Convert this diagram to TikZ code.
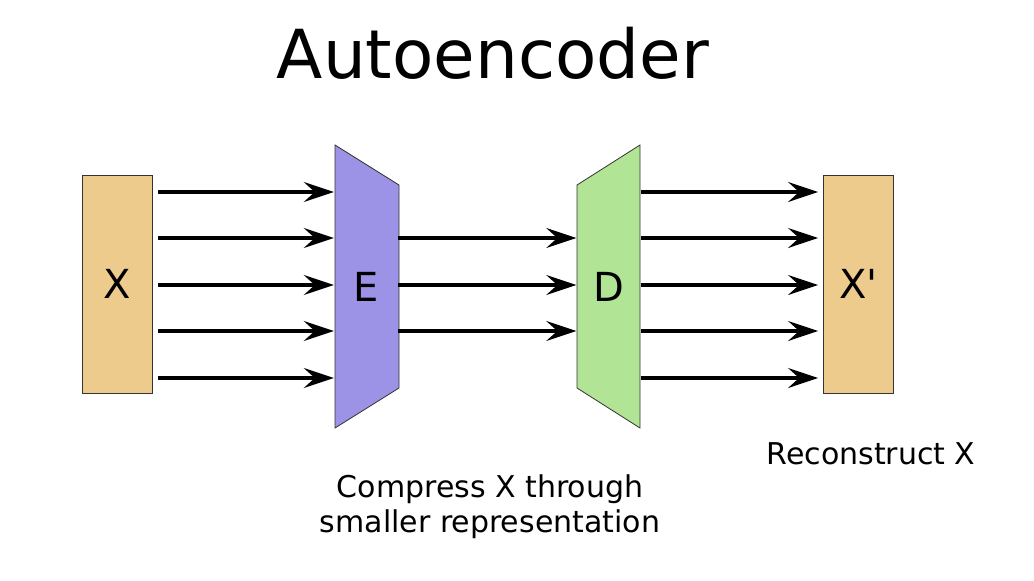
\documentclass[tikz,border=0pt]{standalone}
\usepackage{fontspec}
\setmainfont{DejaVu Sans}
\usetikzlibrary{arrows.meta}
\definecolor{boxc}{HTML}{EDCB8D}
\definecolor{encc}{HTML}{9D93E6}
\definecolor{decc}{HTML}{B1E495}
\definecolor{edgec}{HTML}{333333}
\tikzset{
  databox/.style={draw=edgec, line width=0.8pt, fill=boxc, minimum width=70pt, minimum height=218pt, inner sep=0pt, font=\fontsize{40}{46}\selectfont},
  blk/.style={draw=edgec, line width=0.8pt},
  hid/.style={minimum width=64pt, minimum height=283pt, inner sep=0pt, font=\fontsize{40}{46}\selectfont},
  arr/.style={line width=3.3pt, -{Stealth[length=30pt, width=20pt, inset=11pt]}},
  captext/.style={font=\fontsize{30}{35}\selectfont, align=center}
}
\begin{document}
\begin{tikzpicture}[x=1pt, y=-1pt]
\useasboundingbox (0,0) rectangle (1034,581);
\node (title) at (493,53) {\fontsize{67.6}{70}\selectfont Autoencoder};
\node[databox] (X) at (117,284) {X};
\node[databox] (Xp) at (858.5,284) {X\textquotesingle};
\fill[encc] (335,145) -- (399,185) -- (399,388) -- (335,428) -- cycle;
\draw[blk] (335,145) -- (399,185) -- (399,388) -- (335,428) -- cycle;
\fill[decc] (577,185) -- (640,145) -- (640,428) -- (577,388) -- cycle;
\draw[blk] (577,185) -- (640,145) -- (640,428) -- (577,388) -- cycle;
\node[hid] (E) at (366,286.5) {E};
\node[hid] (D) at (608.5,286.5) {D};
\foreach \yy in {192,238,285,331,378} {
  \draw[arr] ([xshift=6pt]X.east |- 0,\yy) -- (E.west |- 0,\yy);
  \draw[arr] (D.east |- 0,\yy) -- ([xshift=-5pt]Xp.west |- 0,\yy);
}
\foreach \yy in {238,285,331} {
  \draw[arr] (E.east |- 0,\yy) -- (D.west |- 0,\yy);
}
\node[captext] (rec) at (871,454) {Reconstruct X};
\node[captext] (cmp) at (490,507) {Compress X through\\smaller representation};
\end{tikzpicture}
\end{document}
